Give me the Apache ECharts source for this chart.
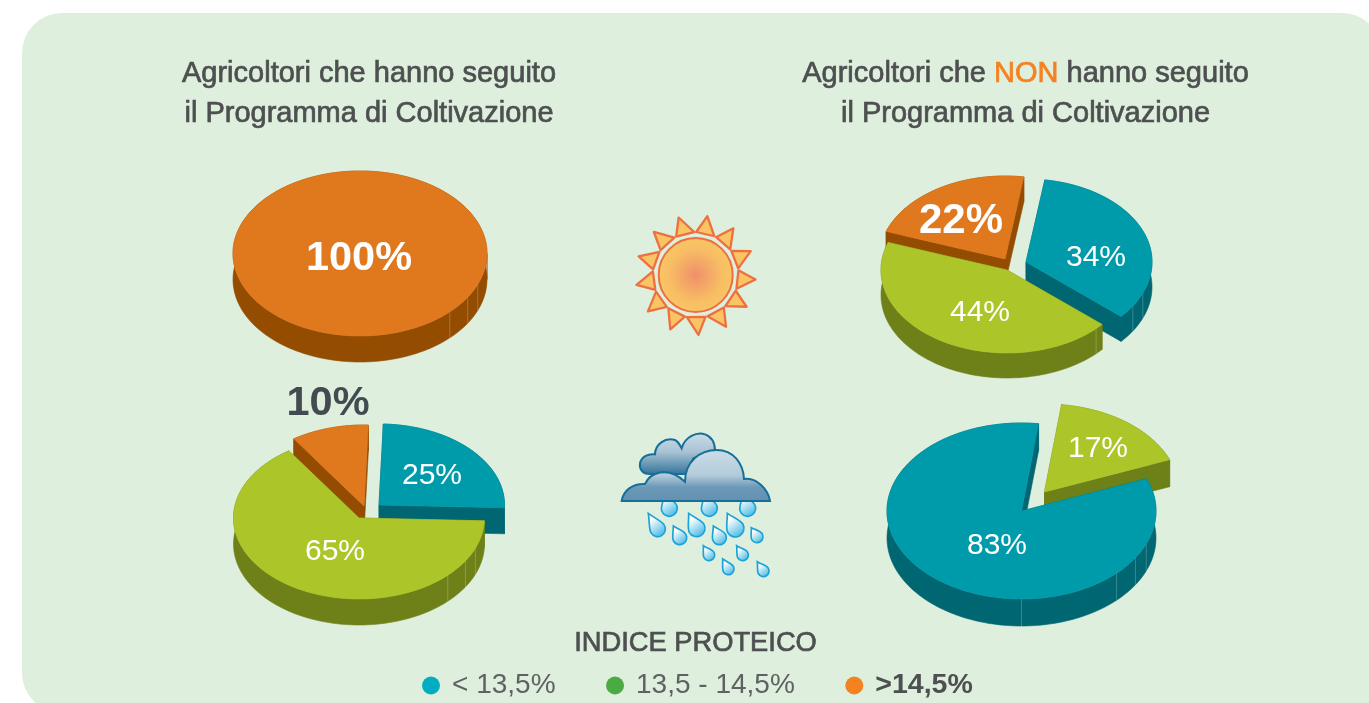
<!DOCTYPE html>
<html><head><meta charset="utf-8">
<style>html,body{margin:0;padding:0;background:#fff}#c{width:1369px;height:703px}</style>
<script src="https://cdn.jsdelivr.net/npm/echarts@6/dist/echarts.min.js"></script>
</head><body><div id="c"></div>
<script>
// ---------- data ----------
const categories = ['< 13,5%', '13,5 - 14,5%', '>14,5%'];
const seguitoSole    = [0, 0, 100];
const seguitoPioggia = [25, 65, 10];
const nonSeguitoSole    = [34, 44, 22];
const nonSeguitoPioggia = [83, 17, 0];
const pieValues = [seguitoSole, seguitoPioggia, nonSeguitoSole, nonSeguitoPioggia];

// ---------- styles / layout ----------
const topColors  = ['#009BAA', '#ACC62A', '#E0781E'];
const wallColors = ['#006672', '#6E8018', '#934C00'];
const legendColors = ['#00AEBF', '#4BAA41', '#F58220'];
const FONT = '"Liberation Sans", Arial, sans-serif';
const pieLayouts = [
  { cx: 360,  cy: 253.5, rx: 127, ry: 82.5, depth: 26, start: 0,
    clockwise: [2], paint: [2], seams: [22, 32, 45],
    offsets: { 2: [0, 0] }, labels: { 2: [359, 259, 41.5, true, '#fff'] } },
  { cx: 359,  cy: 518, rx: 125.5, ry: 81, depth: 26, start: 2,
    clockwise: [1, 2, 0], paint: [2, 0, 1], seams: [22, 32, 45],
    offsets: { 0: [20, -13], 1: [0, 0], 2: [5, -12] },
    labels: { 0: [432, 476, 30, false, '#fff'], 1: [335, 552, 30, false, '#fff'], 2: [328, 404, 41.5, true, '#444B50'] } },
  { cx: 1007, cy: 270, rx: 126, ry: 83, depth: 25, start: 41,
    clockwise: [1, 2, 0], paint: [2, 0, 1], seams: [22, 32, 45],
    offsets: { 0: [19, -8], 1: [0, 0], 2: [-2, -11] },
    labels: { 0: [1096, 258, 30, false, '#fff'], 1: [980, 313, 30, false, '#fff'], 2: [961, 221, 42, true, '#fff'] } },
  { cx: 1021.5, cy: 511, rx: 134.5, ry: 88, depth: 27, start: -21.5,
    clockwise: [0, 1], paint: [1, 0], seams: [22, 32, 45, 90],
    offsets: { 0: [0, 0], 1: [23, -19] },
    labels: { 0: [997, 546, 30, false, '#fff'], 1: [1098, 449, 30, false, '#fff'] } }
];

function sliceRange(pieIdx, catIdx) {
  const vals = pieValues[pieIdx], lay = pieLayouts[pieIdx];
  let a = lay.start;
  for (const c of lay.clockwise) {
    const span = vals[c] * 3.6;
    if (c === catIdx) return [a, a + span];
    a += span;
  }
  return [a, a];
}

function renderSlice(catIdx) {
  return function (params, api) {
    const pieIdx = api.value(0);
    const lay = pieLayouts[pieIdx];
    const [a0, a1] = sliceRange(pieIdx, catIdx);
    const off = lay.offsets[catIdx];
    const cx = lay.cx + off[0], cy = lay.cy + off[1];
    const rank = lay.paint.indexOf(catIdx) * 10 + 10;
    const pt = (deg, dy) => {
      const t = deg * Math.PI / 180;
      return [cx + lay.rx * Math.cos(t), cy + lay.ry * Math.sin(t) + (dy || 0)];
    };
    const arc = [];
    const n = Math.max(2, Math.ceil((a1 - a0) / 2));
    for (let i = 0; i <= n; i++) arc.push(a0 + (a1 - a0) * i / n);
    const full = a1 - a0 >= 359.9;
    const children = [];
    const wall = wallColors[catIdx];
    const poly = (points, fill, z2) => children.push({
      type: 'polygon', z2, shape: { points },
      style: { fill, stroke: fill, lineWidth: 0.6 }
    });
    // outer wall
    poly(arc.map(d => pt(d)).concat(arc.slice().reverse().map(d => pt(d, lay.depth))), wall, rank + 1);
    if (!full) {
      // radial walls
      for (const d of [a0, a1]) {
        poly([[cx, cy], pt(d), pt(d, lay.depth), [cx, cy + lay.depth]], wall, rank + 1);
      }
    }
    // facet seams on the outer wall
    for (const s of lay.seams) {
      if ((s > a0 && s < a1) || (s + 360 > a0 && s + 360 < a1)) {
        const p = pt(s), q = pt(s, lay.depth);
        children.push({
          type: 'line', z2: rank + 2,
          shape: { x1: p[0], y1: p[1], x2: q[0], y2: q[1] },
          style: { stroke: 'rgba(255,255,255,0.22)', lineWidth: 1 }
        });
      }
    }
    // top face
    const topPts = arc.map(d => pt(d));
    if (!full) topPts.unshift([cx, cy]);
    poly(topPts, topColors[catIdx], rank + 3);
    // percentage label
    const l = lay.labels[catIdx];
    children.push({
      type: 'text', x: l[0], y: l[1], z2: 1000,
      style: {
        text: api.value(1) + '%', fill: l[4],
        font: (l[3] ? 'bold ' : '') + l[2] + 'px ' + FONT,
        textAlign: 'center', textVerticalAlign: 'middle'
      }
    });
    return { type: 'group', children };
  };
}

const series = categories.map((name, c) => ({
  type: 'custom', name, coordinateSystem: 'none',
  animation: false, silent: true,
  itemStyle: { color: topColors[c] },
  renderItem: renderSlice(c),
  data: pieValues.map((v, p) => [p, v[c]]).filter(r => r[1] > 0)
}));

// ---------- decorations ----------
const TITLE_COLOR = '#4D4F50';
const TITLE_FONT = '29px ' + FONT;
const titleStyle = { font: TITLE_FONT, fill: TITLE_COLOR, textAlign: 'center', textVerticalAlign: 'middle',
                     stroke: TITLE_COLOR, lineWidth: 0.7 };
const graphics = [
  { type: 'rect', z: 0, shape: { x: 22, y: 13, width: 1360, height: 700, r: 40 }, style: { fill: '#DEEFDE' } },
  { type: 'text', z: 1, x: 369, y: 73.5, style: { ...titleStyle, text: 'Agricoltori che hanno seguito' } },
  { type: 'text', z: 1, x: 369, y: 113.5, style: { ...titleStyle, text: 'il Programma di Coltivazione' } },
  { type: 'text', z: 1, x: 1025.5, y: 113.5, style: { ...titleStyle, text: 'il Programma di Coltivazione' } },
  { type: 'text', z: 1, x: 1025.5, y: 73.5, style: {
      font: TITLE_FONT, fill: TITLE_COLOR, textAlign: 'center', textVerticalAlign: 'middle',
      text: '{a|Agricoltori che }{o|NON}{a| hanno seguito}',
      rich: { a: { font: TITLE_FONT, fill: TITLE_COLOR, stroke: TITLE_COLOR, lineWidth: 0.7 },
              o: { font: TITLE_FONT, fill: '#F58220', stroke: '#F58220', lineWidth: 0.7 } } } },
  { type: 'text', z: 1, x: 695.5, y: 643.5, style: { ...titleStyle, font: '27.3px ' + FONT, text: 'INDICE PROTEICO' } }
];

// sun
const sunC = [695.7, 275];
for (let k = 0; k < 13; k++) {
  const base = (-104.5 + k * 360 / 13) * Math.PI / 180, w = 12.5 * Math.PI / 180, tip = base - 2 * Math.PI / 180;
  const P = (r, a) => [sunC[0] + r * Math.cos(a), sunC[1] + r * Math.sin(a)];
  graphics.push({ type: 'polygon', z: 1,
    shape: { points: [P(60, tip), P(43, base - w), P(43, base + w)] },
    style: { fill: '#F9C464', stroke: '#EE7040', lineWidth: 2.3, lineJoin: 'round' } });
}
graphics.push({ type: 'circle', z: 1, shape: { cx: sunC[0], cy: sunC[1], r: 37 },
  style: { stroke: '#EE7040', lineWidth: 2,
    fill: { type: 'radial', x: 0.5, y: 0.5, r: 0.5, colorStops: [
      { offset: 0, color: '#F0906A' }, { offset: 0.7, color: '#F8BE64' }, { offset: 1, color: '#F9C664' }] } } });

// rain cloud, drawn in a 3x local space
function dropPath(tx, ty, bx, by, r) {
  const L = Math.hypot(bx - tx, by - ty), dx = (bx - tx) / L, dy = (by - ty) / L, nx = -dy, ny = dx, k = 0.55 * r;
  const p = (a, b) => (bx + dx * a + nx * b).toFixed(1) + ' ' + (by + dy * a + ny * b).toFixed(1);
  return `M${tx} ${ty} C${p(-L * 0.55, r * 0.45)} ${p(-k, r)} ${p(0, r)} C${p(k, r)} ${p(r, k)} ${p(r, 0)} ` +
         `C${p(r, -k)} ${p(k, -r)} ${p(0, -r)} C${p(-k, -r)} ${p(-L * 0.55, -r * 0.45)} ${tx} ${ty} Z`;
}
const dropFill = { type: 'linear', x: 0, y: 0, x2: 1, y2: 1, colorStops: [
  { offset: 0.25, color: '#FFFFFF' }, { offset: 1, color: '#22ABDE' }] };
const drops = [
  [165, 205, 178, 250, 24], [285, 205, 298, 250, 24], [400, 205, 413, 250, 24],
  [115, 265, 143, 312, 23], [236, 265, 260, 310, 25], [352, 265, 376, 310, 26],
  [190, 303, 209, 338, 21], [310, 303, 328, 338, 21], [424, 308, 441, 335, 18],
  [280, 362, 297, 390, 17], [380, 362, 398, 390, 17], [338, 402, 355, 432, 17], [442, 410, 460, 438, 17]
];
const cloudChildren = drops.map(d => ({
  type: 'path', shape: { pathData: dropPath(...d) },
  style: { fill: dropFill, stroke: '#1BA3D9', lineWidth: 5 }
}));
cloudChildren.push({ type: 'path',
  shape: { pathData: 'M120 147 C95 147 88 130 90 115 C95 95 115 85 135 88 C135 60 165 35 195 45 C205 50 210 60 215 70 C225 35 260 20 285 28 C305 35 315 55 315 78 L250 100 L230 147 Z' },
  style: { stroke: '#156F98', lineWidth: 6,
    fill: { type: 'linear', x: 0, y: 0, x2: 0, y2: 1, colorStops: [
      { offset: 0.05, color: '#C8DAE5' }, { offset: 0.45, color: '#A9C3D4' }, { offset: 1, color: '#2F7299' }] } } });
cloudChildren.push({ type: 'path',
  shape: { pathData: 'M35 228 C40 195 70 175 105 177 C120 145 170 120 225 170 C225 110 270 75 320 75 C370 75 400 115 402 162 C440 155 475 195 480 228 Z' },
  style: { stroke: '#156F98', lineWidth: 6,
    fill: { type: 'linear', x: 0, y: 0, x2: 0, y2: 1, colorStops: [
      { offset: 0.1, color: '#C8DAE5' }, { offset: 0.5, color: '#B2CADA' }, { offset: 0.72, color: '#6C99B7' }, { offset: 1, color: '#6490B0' }] } } });
series.push({
  type: 'custom', name: 'icona pioggia', coordinateSystem: 'none', animation: false, silent: true,
  data: [[0]],
  renderItem: () => ({ type: 'group', x: 610, y: 425, scaleX: 1 / 3, scaleY: 1 / 3, children: cloudChildren })
});

const chart = echarts.init(document.getElementById('c'), null, { renderer: 'canvas' });
chart.setOption({
  animation: false,
  backgroundColor: '#fff',
  graphic: { elements: graphics },
  legend: {
    left: 422, top: 671, itemWidth: 18, itemHeight: 18, itemGap: 50.5, padding: 0, selectedMode: false,
    textStyle: { fontFamily: FONT, fontSize: 28, color: '#5F6163', padding: [0, 0, 0, 7] },
    data: categories.map((name, c) => ({
      name, icon: 'circle', itemStyle: { color: legendColors[c] },
      textStyle: c === 2 ? { fontWeight: 'bold', color: '#4D4F50', fontFamily: FONT, fontSize: 28.5 } : undefined
    }))
  },
  series
});
</script></body></html>
